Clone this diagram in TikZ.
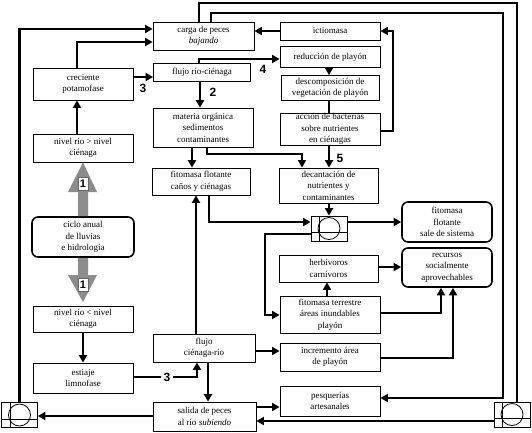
\documentclass[tikz,border=0pt]{standalone}
\usepackage{fontspec}
\setmainfont{Liberation Serif}
\newfontfamily\numfont{Liberation Sans}
\usetikzlibrary{arrows.meta}
\tikzset{
  box/.style={draw,line width=0.8pt,inner sep=0pt,align=center,font=\fontsize{9}{11.5}\selectfont},
  rbox/.style={box,rounded corners=6pt,line width=1.6pt},
  sz/.style 2 args={minimum width=#1pt,minimum height=#2pt},
  valve/.style={draw,line width=0.8pt,minimum width=36pt,minimum height=25pt,inner sep=0pt},
  flow/.style={line width=2.8pt,-{Triangle[length=7.5pt,width=8pt]}},
  link/.style={line width=2.8pt},
  num/.style={font=\numfont\bfseries\fontsize{12}{12}\selectfont,inner sep=1pt},
  numbox/.style={draw=black!60,fill=white,line width=0.6pt,inner sep=0pt,minimum width=10pt,minimum height=13pt,
    font=\numfont\bfseries\fontsize{11}{11}\selectfont,text=black},
  bigarrow/.style={fill=black!45}
}
\begin{document}
\begin{tikzpicture}[x=1pt,y=-1pt]
\useasboundingbox (0,0) rectangle (532,432);
% boxes
\node[box,sz={101}{28}] (carga) at (203.5,36) {carga de peces\\\textit{bajando}};
\node[box,sz={100}{18}] (ict) at (330,31) {ictiomasa};
\node[box,sz={100}{21}] (red) at (330,57) {reducción de playón};
\node[box,sz={98}{25}] (des) at (330,88) {descomposición de\\vegetación de playón};
\node[box,sz={100}{32}] (acc) at (330,129) {acción de bacterias\\sobre nutrientes\\en ciénagas};
\node[box,sz={100}{32}] (cre) at (83,84) {creciente\\potamofase};
\node[box,sz={97}{18}] (frc) at (202,72) {flujo río-ciénaga};
\node[box,sz={100}{39}] (mat) at (203,127.5) {materia orgánica\\sedimentos\\contaminantes};
\node[box,sz={100}{28}] (nvA) at (83,148) {nivel río > nivel\\ciénaga};
\node[box,sz={98}{27}] (ffl) at (201,181.5) {fitomasa flotante\\caños y ciénagas};
\node[box,sz={99}{35}] (dec) at (328.5,185.5) {decantación de\\nutrientes y\\contaminantes};
\node[rbox,sz={102}{40}] (ciclo) at (83,237) {ciclo anual\\de lluvias\\e hidrología};
\node[rbox,sz={90}{40}] (fsa) at (447,222) {fitomasa\\flotante\\sale de sistema};
\node[rbox,sz={90}{39}] (rec) at (447,267.5) {recursos\\socialmente\\aprovechables};
\node[box,sz={99}{27}] (her) at (328.5,268.5) {herbívoros\\carnívoros};
\node[box,sz={100}{37}] (fte) at (330,314.5) {fitomasa terrestre\\áreas inundables\\playón};
\node[box,sz={100}{26}] (nvB) at (83,319) {nivel río < nivel\\ciénaga};
\node[box,sz={102}{28}] (fcr) at (204,348) {flujo\\ciénaga-río};
\node[box,sz={100}{28}] (inc) at (330,357) {incremento área\\de playón};
\node[box,sz={100}{30}] (est) at (83,378) {estiaje\\limnofase};
\node[box,sz={100}{30}] (pesq) at (330,401) {pesquerías\\artesanales};
\node[box,sz={103}{29}] (sal) at (204.5,416.5) {salida de peces\\al río \textit{subiendo}};
\node[valve] (vm) at (329,228.5) {};
\node[valve] (vl) at (19.5,415) {};
\node[valve] (vr) at (512,414.5) {};
\foreach \v in {vm,vl,vr}{
  \draw[line width=0.8pt] ([xshift=9pt]\v.north west) -- ([xshift=9pt]\v.south west);
  \draw[line width=0.8pt] ([yshift=9pt]\v.south west) -- ([yshift=9pt]\v.south east);
  \draw[line width=0.8pt] (\v.center) circle[radius=11pt];
}
% big arrows from the annual cycle
\fill[bigarrow] (ciclo.north -| 78,0) -- (78,192) -- (68,192) -- (nvA.south) -- (97,192) -- (88,192) -- (ciclo.north -| 88,0) -- cycle;
\fill[bigarrow] (ciclo.south -| 78,0) -- (78,275) -- (68,275) -- (83,302) -- (97,275) -- (88,275) -- (ciclo.south -| 88,0) -- cycle;
\node[numbox] (uno1) at (83,184) {1};
\node[numbox] (uno2) at (83,285) {1};
% connectors
\draw[flow] (vl.north) |- (carga.west |- 0,29);
\draw[flow] (cre.north -| 77,0) |- (carga.west |- 0,42);
\draw[flow] (cre.east |- 0,77) -- (frc.west |- 0,77);
\draw[flow] (frc.south -| 200,0) -- (mat.north -| 200,0);
\draw[flow] (frc.north -| 199,0) |- (red.west |- 0,59);
\draw[link] (carga.north -| 199,0) |- (517,3) -- (vr.north -| 517,0);
\draw[flow] (carga.north -| 211,0) |- (503,13) |- (pesq.east |- 0,398);
\draw[flow] (ict.west) -- (carga.east |- ict.west);
\draw[flow] (acc.east |- 0,131) -| (393,31) -- (ict.east);
\draw[flow] (red.south -| 329,0) -- (des.north -| 329,0);
\draw[link] (des.south -| 329,0) -- (acc.north -| 329,0);
\draw[flow] (acc.south -| 329,0) -- (dec.north -| 329,0);
\draw[flow] (mat.south -| 192,0) -- (ffl.north -| 192,0);
\draw[flow] (mat.south -| 207,0) |- (302,154) -- (dec.north -| 302,0);
\draw[flow] (dec.south -| 329,0) -- (vm.north -| 329,0);
\draw[flow] (ffl.south -| 209,0) |- (vm.west |- 0,222);
\draw[flow] (vm.east |- 0,222) -- (fsa.west |- 0,222);
\draw[flow] (vm.west |- 0,234) -| (265,315) -- (fte.west |- 0,315);
\draw[flow] (fte.north -| 327,0) -- (her.south -| 327,0);
\draw[flow] (her.east |- 0,267) -- (rec.west |- 0,267);
\draw[flow] (fte.east |- 0,313) -| (rec.south -| 441,0);
\draw[flow] (inc.east |- 0,358) -| (rec.south -| 453,0);
\draw[flow] (fcr.north -| 196,0) -- (ffl.south -| 196,0);
\draw[flow] (fcr.east |- 0,351) -- (inc.west |- 0,351);
\draw[flow] (fcr.south -| 208,0) -- (sal.north -| 208,0);
\draw[flow] (est.east |- 0,377) -| (fcr.south -| 197,0);
\draw[flow] (nvB.south -| 83,0) -- (est.north -| 83,0);
\draw[flow] (nvA.north -| 77,0) -- (cre.south -| 77,0);
\draw[flow] (sal.west |- 0,416) -- (vl.east |- 0,416);
\draw[flow] (vr.west |- 0,421) -- (sal.east |- 0,421);
\draw[flow] (sal.east |- 0,407) -- (pesq.west |- 0,407);
% numbers
\node[num] (n3a) at (143,88) {3};
\node[num] (n2) at (213,92) {2};
\node[num] (n4) at (263,69) {4};
\node[num] (n5) at (340,158) {5};
\node[num,fill=white,inner xsep=3pt] (n3b) at (167,377) {3};
\end{tikzpicture}
\end{document}
